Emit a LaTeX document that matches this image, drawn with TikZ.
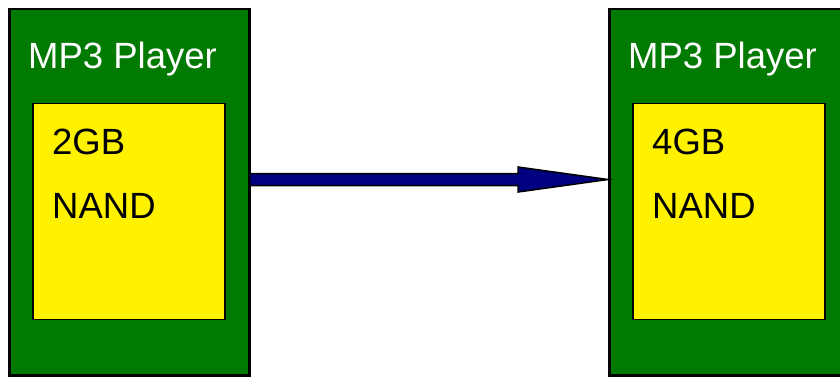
\documentclass[tikz,border=0pt]{standalone}
\usepackage{fontspec}
\setmainfont{Liberation Sans}
\usetikzlibrary{calc}
\definecolor{boxgreen}{RGB}{0,122,0}
\definecolor{navyarrow}{RGB}{0,0,128}
\begin{document}
\begin{tikzpicture}[x=1pt,y=-1pt,
  player/.style={draw=black, line width=2.5pt, fill=boxgreen, minimum width=240pt, minimum height=366.5pt, inner sep=0pt, anchor=north west},
  chip/.style={draw=black, line width=1.5pt, fill=yellow, minimum width=192pt, minimum height=216pt, inner sep=0pt, anchor=north west},
  titletext/.style={text=white, font=\fontsize{36.5}{40}\selectfont, anchor=base west, inner sep=0pt},
  chiptext/.style={text=black, font=\fontsize{36.5}{40}\selectfont, anchor=base west, inner sep=0pt},
  arrowbody/.style={draw=black, line width=1.5pt, fill=navyarrow, line join=miter}]
\useasboundingbox (0,0) rectangle (840,376);
\clip (0,0) rectangle (840,376);
% players
\node[player] (lp) at (8,7.5) {};
\node[player] (rp) at (608,7.5) {};
% memory chips
\node[chip] (lm) at (32,102.5) {};
\node[chip] (rm) at (632,102.5) {};
% texts
\node[titletext] (lt) at (28,68) {MP3 Player};
\node[titletext] (rt) at (628,68) {MP3 Player};
\node[chiptext] (lc) at (52,154) {2GB};
\node[chiptext] (ln) at (52,218) {NAND};
\node[chiptext] (rc) at (652,154) {4GB};
\node[chiptext] (rn) at (652,218) {NAND};
% arrow
\coordinate (as) at (lp.east |- 0,179.5);
\coordinate (ae) at (rp.west |- 0,179.5);
\draw[arrowbody] ($(as)+(0,-6)$) -- ($(ae)+(-90,-6)$) -- ($(ae)+(-90,-12.5)$) -- (ae)
  -- ($(ae)+(-90,12.5)$) -- ($(ae)+(-90,6)$) -- ($(as)+(0,6)$);
\end{tikzpicture}
\end{document}
